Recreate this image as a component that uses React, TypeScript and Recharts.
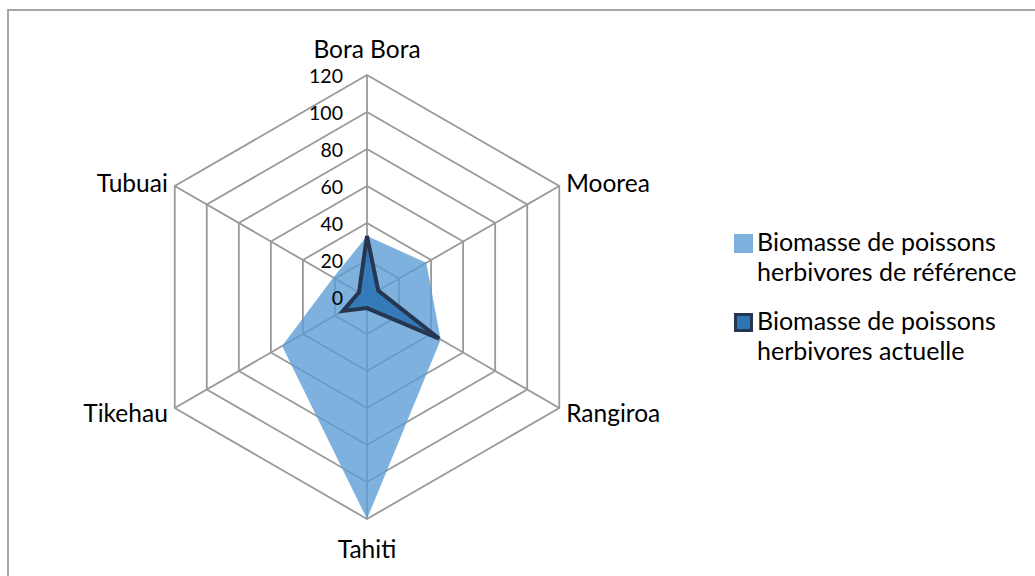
import React from 'react'
import { RadarChart, PolarGrid, PolarAngleAxis, PolarRadiusAxis, Radar, Legend } from 'recharts'

const islands = ['Bora Bora', 'Moorea', 'Rangiroa', 'Tahiti', 'Tikehau', 'Tubuai']
const reference = [33, 37, 46, 120, 53, 21]
const actual = [33, 7, 45, 6, 15, 5]
const radiusTicks = [0, 20, 40, 60, 80, 100, 120]

const data = islands.map((name, i) => ({ name, reference: reference[i], actual: actual[i] }))

const FONT = 'Lato, "Noto Sans", sans-serif'

const AngleTick = (props: any) => {
    const { x, y, payload, textAnchor } = props
    let dy = 0
    if (textAnchor === 'middle') dy = y < 297 ? -19 : 21
    return (
        <text x={x} y={y + dy} textAnchor={textAnchor} dominantBaseline='central'
            fontFamily={FONT} fontSize={24.5} fill='#000'>
            {payload.value}
        </text>
    )
}

const RadiusTick = (props: any) => {
    const { x, y, payload } = props
    return (
        <text x={x - 24} y={y} textAnchor='end' dominantBaseline='central'
            fontFamily={FONT} fontSize={19.5} fill='#000'>
            {payload.value}
        </text>
    )
}

const LegendBox = () => {
    const items = [
        { lines: ['Biomasse de poissons', 'herbivores de référence'], fill: '#7FB1DE', border: '#7FB1DE' },
        { lines: ['Biomasse de poissons', 'herbivores actuelle'], fill: '#2E75B6', border: '#263650' },
    ]
    return (
        <div style={{ fontFamily: FONT, fontSize: 25, color: '#000' }}>
            {items.map((it, i) => (
                <div key={i} style={{ display: 'flex', alignItems: 'flex-start', marginBottom: i === 0 ? 19 : 0 }}>
                    <div style={{
                        width: 13, height: 13, background: it.fill, border: `3px solid ${it.border}`,
                        marginTop: 8, marginRight: 4, flexShrink: 0,
                    }} />
                    <div style={{ lineHeight: '30px' }}>
                        {it.lines.map((l, j) => <div key={j}>{l}</div>)}
                    </div>
                </div>
            ))}
        </div>
    )
}

export default function App() {
    return (
        <div style={{ position: 'absolute', left: 0, top: 0, width: 1035, height: 576, overflow: 'hidden', background: '#fff' }}>
            <div style={{
                position: 'absolute', left: 7, top: 9, width: 1100, height: 700,
                borderLeft: '2px solid #A6A6A6', borderTop: '2px solid #A6A6A6',
            }} />
            <div style={{ position: 'absolute', left: 0, top: 0 }}>
                <RadarChart width={1035} height={576} data={data} cx={367} cy={297} outerRadius={222}
                    margin={{ top: 0, right: 0, bottom: 0, left: 0 }}>
                    <PolarGrid gridType='polygon' stroke='#999999' strokeWidth={1.8} />
                    <PolarAngleAxis dataKey='name' tick={<AngleTick />} tickLine={false} axisLine={false} />
                    <Radar dataKey='reference' name='Biomasse de poissons herbivores de référence'
                        fill='#5B9BD5' fillOpacity={0.78} stroke='none' isAnimationActive={false} />
                    <Radar dataKey='actual' name='Biomasse de poissons herbivores actuelle'
                        fill='#2E75B6' fillOpacity={0.9} stroke='#263650' strokeWidth={4}
                        strokeLinejoin='miter' isAnimationActive={false} />
                    <PolarRadiusAxis angle={90} domain={[0, 120]} ticks={radiusTicks} tickCount={7}
                        axisLine={false} tickLine={false} tick={<RadiusTick />} />
                    <Legend layout='vertical' content={<LegendBox />}
                        wrapperStyle={{ position: 'absolute', left: 734, top: 226, width: 300 }} />
                </RadarChart>
            </div>
        </div>
    )
}
